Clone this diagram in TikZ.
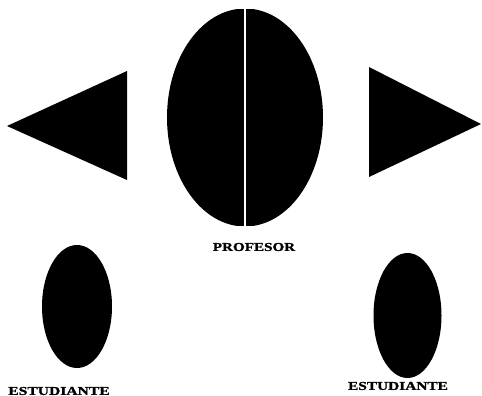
\documentclass[tikz,border=0pt]{standalone}
\usepackage{fontspec}
\setmainfont{Liberation Serif}
\newfontfamily\rolefont{Liberation Serif}[UprightFont=* Bold, FakeBold=1.2]
\usetikzlibrary{shapes.geometric}

\begin{document}
\begin{tikzpicture}[x=1pt, y=-1pt,
  blob/.style={ellipse, fill=black, inner sep=0pt},
  role/.style={font=\rolefont\fontsize{12}{12}\selectfont, inner sep=0pt}]
\useasboundingbox (0,0) rectangle (482,396);
% profesor
\begin{scope}
\clip (0,9.5) rectangle (482,225);
\node[blob, minimum width=156pt, minimum height=218pt] (prof) at (245,117.5) {};
\end{scope}
\draw[white, line width=2pt] (245,9) -- (245,226);
\node[role] (proflabel) at (254,247) {\scalebox{1.26}[1]{PROFESOR}};
% triangulos
\fill (7,126) -- (127,71) -- (127,180) -- cycle;
\fill (481,124) -- (369,67) -- (369,177) -- cycle;
% estudiantes
\node[blob, minimum width=70pt, minimum height=123pt] (est1) at (77,306.5) {};
\node[blob, minimum width=68pt, minimum height=125pt] (est2) at (407.5,315.5) {};
\node[role] (est1label) at (59,391) {\scalebox{1.3}[1]{ESTUDIANTE}};
\node[role] (est2label) at (398,386) {\scalebox{1.28}[1]{ESTUDIANTE}};
\end{tikzpicture}
\end{document}
